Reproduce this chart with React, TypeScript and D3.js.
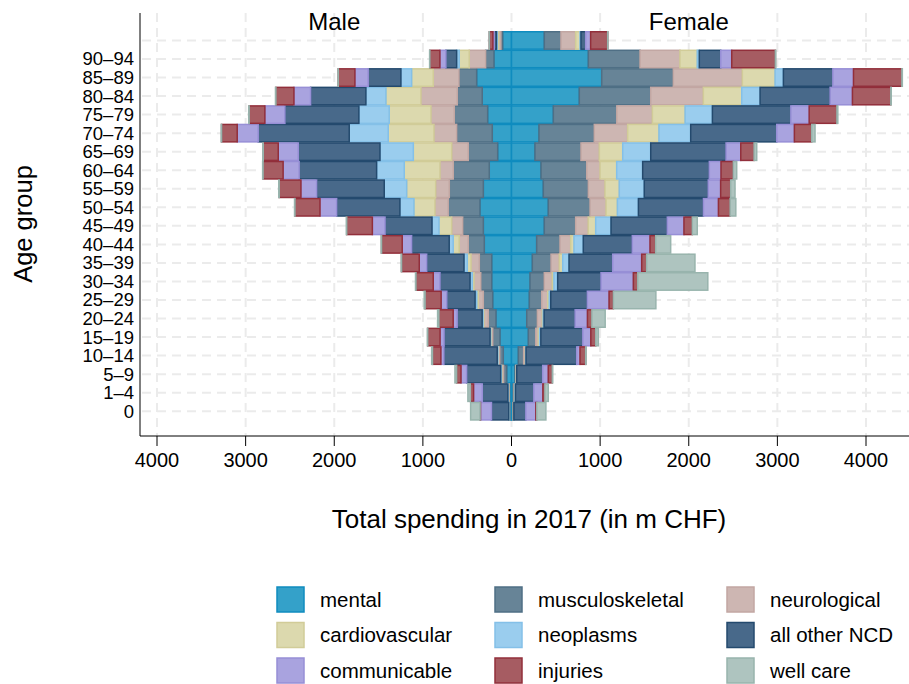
import { useEffect, useRef } from "react";
import * as d3 from "d3";

// age groups, youngest first (95+ has no tick label in the original)
const ageGroups = ["0", "1–4", "5–9", "10–14", "15–19", "20–24", "25–29", "30–34", "35–39", "40–44", "45–49", "50–54", "55–59", "60–64", "65–69", "70–74", "75–79", "80–84", "85–89", "90–94", "95+"];

const categories = ["mental", "musculoskeletal", "neurological", "cardiovascular", "neoplasms", "all other NCD", "communicable", "injuries", "well care"];

// male spending, m CHF
const maleMental = [17, 20, 54, 93, 130, 175, 212, 223, 223, 307, 318, 356, 318, 251, 156, 217, 269, 330, 393, 198, 100];
const maleMusculo = [5, 8, 35, 40, 82, 87, 106, 124, 140, 181, 233, 358, 384, 406, 332, 402, 377, 282, 200, 94, 20];
const maleNeuro = [5, 5, 20, 15, 18, 49, 56, 76, 94, 102, 124, 150, 154, 150, 187, 256, 263, 410, 290, 185, 25];
const maleCardio = [2, 3, 5, 5, 5, 10, 18, 19, 42, 68, 143, 237, 327, 403, 433, 516, 471, 395, 244, 113, 15];
const maleNeoplasms = [2, 5, 8, 8, 7, 10, 19, 26, 37, 45, 79, 158, 253, 312, 376, 440, 342, 226, 121, 29, 10];
const maleOtherNCD = [195, 289, 384, 602, 519, 282, 319, 339, 421, 424, 530, 714, 763, 874, 922, 1027, 835, 624, 369, 121, 25];
const maleCommunicable = [124, 98, 64, 34, 45, 45, 64, 76, 84, 106, 143, 188, 177, 181, 226, 237, 226, 188, 150, 68, 15];
const maleInjuries = [5, 37, 49, 94, 139, 161, 181, 195, 199, 233, 289, 282, 245, 226, 169, 176, 177, 203, 188, 113, 40];
const maleWellCare = [106, 27, 19, 10, 5, 15, 10, 5, 5, 5, 5, 5, 5, 5, 5, 5, 5, 5, 3, 3, 2];

// female spending, m CHF
const femaleMental = [15, 20, 40, 77, 190, 172, 201, 209, 235, 284, 370, 415, 359, 333, 265, 310, 472, 765, 1018, 867, 370];
const femaleMusculo = [5, 10, 10, 60, 84, 120, 140, 161, 211, 263, 354, 471, 508, 516, 519, 624, 716, 806, 808, 583, 188];
const femaleNeuro = [3, 5, 5, 20, 29, 56, 68, 90, 94, 121, 142, 181, 188, 150, 207, 377, 402, 594, 779, 451, 166];
const femaleCardio = [2, 5, 2, 3, 14, 10, 17, 19, 38, 37, 84, 128, 161, 188, 264, 353, 369, 433, 369, 195, 49];
const femaleNeoplasms = [2, 5, 2, 4, 14, 10, 17, 42, 71, 105, 173, 237, 282, 293, 316, 358, 308, 207, 94, 23, 11];
const femaleOtherNCD = [135, 207, 293, 572, 474, 350, 413, 489, 493, 553, 635, 734, 722, 752, 850, 971, 885, 790, 558, 242, 53];
const femaleCommunicable = [113, 102, 63, 37, 90, 139, 245, 365, 327, 200, 188, 169, 140, 132, 166, 199, 207, 252, 233, 124, 56];
const femaleInjuries = [11, 23, 45, 64, 56, 50, 49, 50, 56, 64, 94, 132, 113, 139, 150, 196, 313, 433, 546, 492, 192];
const femaleWellCare = [102, 38, 5, 5, 29, 150, 479, 790, 545, 169, 56, 64, 49, 38, 30, 37, 10, 5, 5, 5, 3];

const xTicks = [-4000, -3000, -2000, -1000, 0, 1000, 2000, 3000, 4000];

const fills = ["#34a1c9", "#678497", "#cdb6b2", "#dcd9ae", "#9acdee", "#48698a", "#a9a3df", "#a65c62", "#aec4bf"];
const strokes = ["#0f8cbf", "#4f6f85", "#c2a7a3", "#d1cc98", "#84c0e8", "#244a6e", "#978fd6", "#922f3b", "#98b4ad"];

const maleSeries = [maleMental, maleMusculo, maleNeuro, maleCardio, maleNeoplasms, maleOtherNCD, maleCommunicable, maleInjuries, maleWellCare];
const femaleSeries = [femaleMental, femaleMusculo, femaleNeuro, femaleCardio, femaleNeoplasms, femaleOtherNCD, femaleCommunicable, femaleInjuries, femaleWellCare];

const FONT = "'Liberation Sans', Arial, Helvetica, sans-serif";

function toTable(series: number[][]) {
  return ageGroups.map((age, i) => {
    const row: any = { age };
    categories.forEach((c, k) => (row[c] = series[k][i]));
    return row;
  });
}

function Pyramid() {
  const svgRef = useRef<SVGSVGElement | null>(null);

  useEffect(() => {
    const svg: any = d3.select(svgRef.current);
    svg.selectAll("*").remove();

    const left = 140;
    const right = 909;
    const top = 13;
    const bottom = 436;

    const x = d3.scaleLinear().domain([-4000, 4000]).range([157, 866]);
    const y = d3
      .scaleBand()
      .domain([...ageGroups].reverse())
      .range([31.2, 420.5])
      .paddingInner(0.06)
      .paddingOuter(0.03);
    const bw = y.bandwidth();

    // grid
    const grid = svg.append("g").attr("stroke", "#ebebeb").attr("stroke-width", 2).attr("stroke-dasharray", "9,6");
    grid
      .selectAll("line.h")
      .data(ageGroups)
      .enter()
      .append("line")
      .attr("x1", left + 2)
      .attr("x2", right)
      .attr("y1", (d: string) => y(d)! + bw / 2)
      .attr("y2", (d: string) => y(d)! + bw / 2);
    grid
      .selectAll("line.v")
      .data(xTicks)
      .enter()
      .append("line")
      .attr("x1", (d: number) => x(d))
      .attr("x2", (d: number) => x(d))
      .attr("y1", top)
      .attr("y2", bottom);

    const stack = d3.stack().keys(categories);
    const sides = [
      { layers: stack(toTable(maleSeries)), sign: -1 },
      { layers: stack(toTable(femaleSeries)), sign: 1 },
    ];

    sides.forEach(({ layers, sign }) => {
      const g = svg.append("g");
      layers.forEach((layer: any, k: number) => {
        g.append("g")
          .attr("fill", fills[k])
          .attr("stroke", strokes[k])
          .attr("stroke-width", 1.5)
          .selectAll("rect")
          .data(layer)
          .enter()
          .append("rect")
          .attr("x", (d: any) => Math.min(x(sign * d[0]), x(sign * d[1])))
          .attr("width", (d: any) => Math.abs(x(sign * d[1]) - x(sign * d[0])))
          .attr("y", (d: any) => y(d.data.age)!)
          .attr("height", bw);
      });
    });

    // axes
    svg.append("line").attr("x1", left).attr("x2", left).attr("y1", top).attr("y2", bottom).attr("stroke", "#000");
    svg.append("line").attr("x1", left).attr("x2", right).attr("y1", bottom).attr("y2", bottom).attr("stroke", "#000");

    const xt = svg.append("g");
    xt.selectAll("line")
      .data(xTicks)
      .enter()
      .append("line")
      .attr("x1", (d: number) => x(d))
      .attr("x2", (d: number) => x(d))
      .attr("y1", bottom)
      .attr("y2", bottom + 10)
      .attr("stroke", "#000");
    xt.selectAll("text")
      .data(xTicks)
      .enter()
      .append("text")
      .attr("x", (d: number) => x(d))
      .attr("y", 467)
      .attr("text-anchor", "middle")
      .style("font-family", FONT)
      .style("font-size", "20px")
      .text((d: number) => Math.abs(d));

    svg
      .append("g")
      .selectAll("text")
      .data(ageGroups.filter((a) => a !== "95+"))
      .enter()
      .append("text")
      .attr("x", 134)
      .attr("y", (d: string) => y(d)! + bw / 2)
      .attr("dy", "0.35em")
      .attr("text-anchor", "end")
      .style("font-family", FONT)
      .style("font-size", "18.5px")
      .text((d: string) => d);

    const title = (t: string, tx: number, ty: number, size: number, rotate = false) =>
      svg
        .append("text")
        .attr("transform", rotate ? `translate(${tx},${ty}) rotate(-90)` : `translate(${tx},${ty})`)
        .attr("text-anchor", "middle")
        .style("font-family", FONT)
        .style("font-size", `${size}px`)
        .text(t);

    title("Male", x(-2000), 30, 24);
    title("Female", x(2000), 30, 24);
    title("Total spending in 2017 (in m CHF)", 529, 528, 26);
    title("Age group", 32, 224, 25.5, true);

    // legend, 3 columns, row-major
    const legend = svg.append("g");
    const colX = [277, 495, 727];
    categories.forEach((c, k) => {
      const lx = colX[k % 3];
      const ly = 587 + Math.floor(k / 3) * 35.5;
      legend
        .append("rect")
        .attr("x", lx)
        .attr("y", ly)
        .attr("width", 27)
        .attr("height", 25)
        .attr("fill", fills[k])
        .attr("stroke", strokes[k])
        .attr("stroke-width", 1.5);
      legend
        .append("text")
        .attr("x", lx + 43)
        .attr("y", ly + 12.5)
        .attr("dy", "0.35em")
        .style("font-family", FONT)
        .style("font-size", "20.5px")
        .text(c);
    });
  }, []);

  return <svg ref={svgRef} width={909} height={684} style={{ position: "absolute", left: 0, top: 0 }}></svg>;
}

export default function App() {
  return <Pyramid />;
}
